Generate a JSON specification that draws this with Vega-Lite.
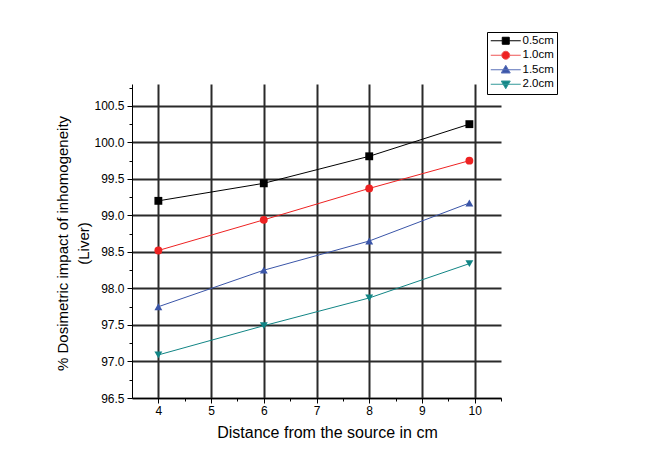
{
  "$schema": "https://vega.github.io/schema/vega-lite/v6.json",
  "width": 369,
  "height": 314,
  "autosize": {"type": "none"},
  "padding": {"left": 132, "top": 84, "right": 146, "bottom": 71},
  "background": "white",
  "config": {
    "font": "Liberation Sans",
    "view": {"stroke": null},
    "axis": {
      "labelFont": "Liberation Sans",
      "titleFont": "Liberation Sans",
      "labelColor": "#000",
      "titleColor": "#000",
      "domainColor": "#000",
      "tickColor": "#000",
      "titleFontWeight": "normal"
    }
  },
  "data": {
    "values": [
      {"x": 4, "y": 99.2, "s": "0.5cm"},
      {"x": 6, "y": 99.44, "s": "0.5cm"},
      {"x": 8, "y": 99.81, "s": "0.5cm"},
      {"x": 9.9, "y": 100.25, "s": "0.5cm"},
      {"x": 4, "y": 98.52, "s": "1.0cm"},
      {"x": 6, "y": 98.94, "s": "1.0cm"},
      {"x": 8, "y": 99.37, "s": "1.0cm"},
      {"x": 9.9, "y": 99.75, "s": "1.0cm"},
      {"x": 4, "y": 97.75, "s": "1.5cm"},
      {"x": 6, "y": 98.25, "s": "1.5cm"},
      {"x": 8, "y": 98.65, "s": "1.5cm"},
      {"x": 9.9, "y": 99.17, "s": "1.5cm"},
      {"x": 4, "y": 97.09, "s": "2.0cm"},
      {"x": 6, "y": 97.49, "s": "2.0cm"},
      {"x": 8, "y": 97.87, "s": "2.0cm"},
      {"x": 9.9, "y": 98.34, "s": "2.0cm"}
    ]
  },
  "layer": [
    {
      "mark": {"type": "line", "strokeWidth": 1},
      "encoding": {
        "x": {
          "field": "x", "type": "quantitative",
          "scale": {"domain": [3.5, 10.5], "nice": false, "zero": false},
          "axis": {
            "values": [4, 5, 6, 7, 8, 9, 10],
            "grid": true, "gridColor": "#2a2a2a", "gridWidth": 2,
            "tickSize": 5, "labelFontSize": 12, "labelPadding": 2,
            "title": "Distance from the source in cm", "titleFontSize": 16,
            "titlePadding": 8, "titleX": 195
          }
        },
        "y": {
          "field": "y", "type": "quantitative",
          "scale": {"domain": [96.5, 100.8], "nice": false, "zero": false},
          "axis": {
            "values": [96.5, 97, 97.5, 98, 98.5, 99, 99.5, 100, 100.5],
            "format": ".1f",
            "grid": true, "gridColor": "#2a2a2a", "gridWidth": 2,
            "tickSize": 5, "labelFontSize": 12, "labelPadding": 3,
            "title": ["% Dosimetric impact of inhomogeneity", "(Liver)"],
            "titleFontSize": 15, "titleLineHeight": 21, "titlePadding": 2, "titleY": 159
          }
        },
        "color": {
          "field": "s", "type": "nominal",
          "scale": {"domain": ["0.5cm", "1.0cm", "1.5cm", "2.0cm"], "range": ["#000000", "#ee2222", "#3a55a8", "#118585"]},
          "legend": null
        }
      }
    },
    {
      "mark": {"type": "point", "filled": true, "opacity": 1, "size": 62},
      "encoding": {
        "x": {
          "field": "x", "type": "quantitative",
          "axis": {
            "values": [4.5, 5.5, 6.5, 7.5, 8.5, 9.5, 10.5],
            "labels": false, "grid": false, "domain": false, "tickSize": 3, "title": null, "orient": "bottom"
          }
        },
        "y": {
          "field": "y", "type": "quantitative",
          "axis": {
            "values": [96.75, 97.25, 97.75, 98.25, 98.75, 99.25, 99.75, 100.25, 100.75],
            "labels": false, "grid": false, "domain": false, "tickSize": 3, "title": null, "orient": "left"
          }
        },
        "color": {"field": "s", "type": "nominal", "legend": null},
        "shape": {
          "field": "s", "type": "nominal",
          "scale": {"domain": ["0.5cm", "1.0cm", "1.5cm", "2.0cm"], "range": ["square", "circle", "triangle-up", "triangle-down"]},
          "legend": null
        }
      }
    },
    {
      "mark": {"type": "point", "filled": true, "opacity": 0},
      "encoding": {
        "x": {"field": "x", "type": "quantitative", "axis": null},
        "y": {"field": "y", "type": "quantitative", "axis": null},
        "fill": {
          "field": "s", "type": "nominal", "title": null,
          "scale": {"domain": ["0.5cm", "1.0cm", "1.5cm", "2.0cm"], "range": ["#000000", "#ee2222", "#3a55a8", "#118585"]}
        },
        "stroke": {
          "field": "s", "type": "nominal", "title": null,
          "scale": {"domain": ["0.5cm", "1.0cm", "1.5cm", "2.0cm"], "range": ["#000000", "#ee5555", "#5a70b8", "#339999"]}
        },
        "shape": {
          "field": "s", "type": "nominal", "title": null,
          "scale": {
            "domain": ["0.5cm", "1.0cm", "1.5cm", "2.0cm"],
            "range": [
              "M-3,0H-0.7M0.7,0H3M-0.7,-0.7H0.7V0.7H-0.7Z",
              "M-3,0H-0.8M0.8,0H3M-0.8,0A0.8,0.8,0,1,0,0.8,0A0.8,0.8,0,1,0,-0.8,0Z",
              "M-3,0H3M0,-0.9L0.9,0.65H-0.9Z",
              "M-3,0H3M0,0.9L0.9,-0.65H-0.9Z"
            ]
          },
          "legend": {
            "orient": "none", "legendX": 355, "legendY": -52,
            "title": null,
            "strokeColor": "#000", "fillColor": "#fff", "padding": 3,
            "symbolSize": 100, "symbolOffset": 10, "labelOffset": 11,
            "labelFontSize": 11.5, "labelColor": "#000", "labelFont": "Liberation Sans",
            "rowPadding": 1.5, "symbolStrokeWidth": 1, "symbolOpacity": 1,
            "encode": {"symbols": {"update": {"opacity": {"value": 1}, "strokeWidth": {"value": 1}}}}
          }
        }
      }
    }
  ],
  "resolve": {
    "scale": {"shape": "independent", "fill": "independent", "stroke": "independent"},
    "axis": {"x": "independent", "y": "independent"}
  }
}
